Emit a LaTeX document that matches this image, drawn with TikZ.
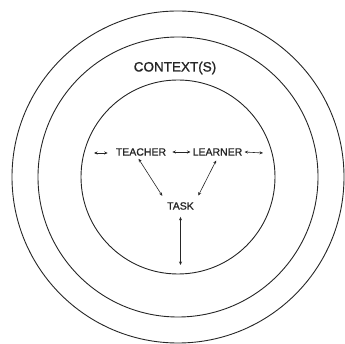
\documentclass[tikz,border=0pt]{standalone}
\usepackage{fontspec}
\setmainfont{Liberation Sans}
\newfontfamily\lblfont[FakeBold=1.2]{Liberation Sans}
\usetikzlibrary{arrows.meta}
\tikzset{
  ring/.style={draw=black!85, line width=0.9pt},
  lbl/.style={inner sep=2pt, font=\lblfont\fontsize{10.5}{12}\selectfont, text=black!85},
  dart/.style={draw=black!85, line width=0.6pt, {Stealth[length=3.5pt,width=3pt]}-{Stealth[length=3.5pt,width=3pt]}}
}
\begin{document}
\begin{tikzpicture}[x=1pt,y=-1pt]
\useasboundingbox (0,0) rectangle (345,344);
\coordinate (c) at (178,177);
\draw[ring] (c) circle[radius=166];
\draw[ring] (c) circle[radius=140];
\draw[ring] (c) circle[radius=97];
\node[inner sep=0pt, font=\lblfont\fontsize{13.5}{15}\selectfont, text=black!85] (ctx) at (175,68) {CONTEXT(S)};
\node[lbl] (teacher) at (141,152) {TEACHER};
\node[lbl] (learner) at (217.5,152) {LEARNER};
\node[lbl] (task) at (180.5,206) {TASK};
\coordinate (lend) at (94,153);
\coordinate (rend) at (263,153);
\coordinate (bend) at (180.5,265);
\draw[dart, shorten >=6pt] (lend) -- (lend -| teacher.west);
\draw[dart, shorten <=4pt] (teacher.east) -- (learner.west);
\draw[dart] (learner.east) -- (rend);
\draw[dart, shorten <=1pt, shorten >=5pt] ([xshift=-3pt]teacher.south) -- (task.north west);
\draw[dart, shorten <=3pt, shorten >=5pt] (learner.south) -- (task.north east);
\draw[dart, shorten <=5pt] (task.south) -- (bend);
\end{tikzpicture}
\end{document}
